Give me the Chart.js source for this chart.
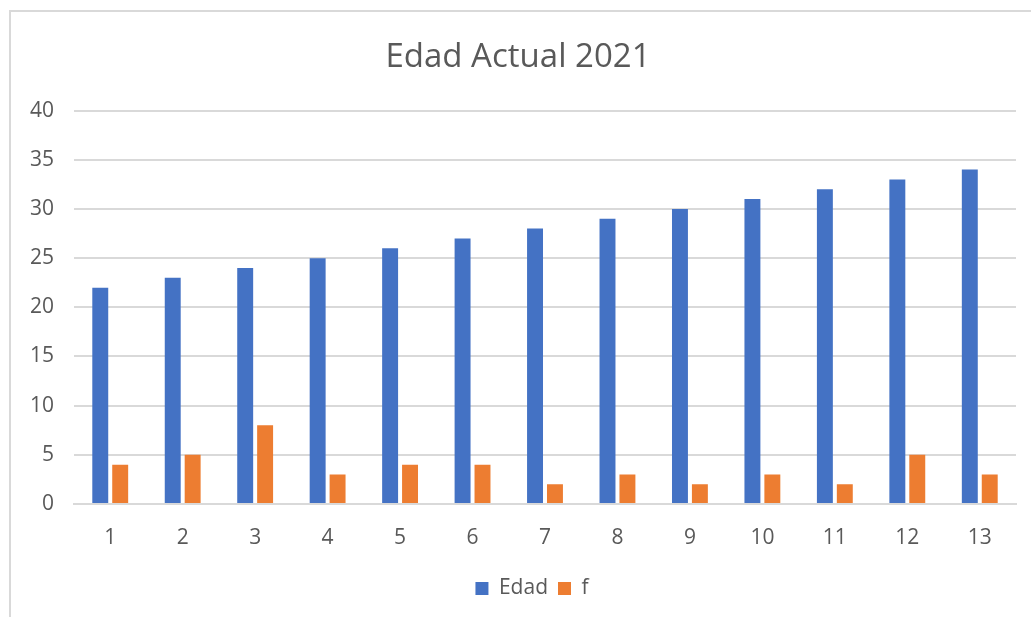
<!DOCTYPE html>
<html>
<head>
<meta charset="utf-8">
<script src="https://cdn.jsdelivr.net/npm/chart.js@4"></script>
<style>
  body { margin: 0; background: #fff; }
  #frame { position: absolute; left: 9px; top: 10px; width: 1040px; height: 620px; border: 2px solid #d9d9d9; }
  #wrap { position: absolute; left: 0; top: 0; width: 1031px; height: 617px; }
</style>
</head>
<body>
<div id="frame"></div>
<div id="wrap"><canvas id="mycanvas"></canvas></div>
<script>
var categorias = ['1', '2', '3', '4', '5', '6', '7', '8', '9', '10', '11', '12', '13'];
var edad = [22, 23, 24, 25, 26, 27, 28, 29, 30, 31, 32, 33, 34];
var frec = [4, 5, 8, 3, 4, 4, 2, 3, 2, 3, 2, 5, 3];

var gris = '#595959';

var chartdata = {
  labels: categorias,
  datasets: [
    {
      label: 'Edad',
      backgroundColor: '#4472C4',
      data: edad,
      categoryPercentage: 0.55,
      barPercentage: 0.8
    },
    {
      label: 'f',
      backgroundColor: '#ED7D31',
      data: frec,
      categoryPercentage: 0.55,
      barPercentage: 0.8
    }
  ]
};

// the original legend sits a bit right of the page centre
var moverLeyenda = {
  id: 'moverLeyenda',
  afterLayout: function(chart) {
    chart.legend.left += 14;
    chart.legend.right += 14;
  }
};

var ctx = document.getElementById('mycanvas');

var barGraph = new Chart(ctx, {
  type: 'bar',
  data: chartdata,
  plugins: [moverLeyenda],
  options: {
    responsive: true,
    maintainAspectRatio: false,
    animation: false,
    layout: { padding: { left: 20, right: 15, top: 0, bottom: 8 } },
    plugins: {
      title: {
        display: true,
        text: 'Edad Actual 2021',
        color: gris,
        font: { family: 'Open Sans', size: 33, weight: 'normal' },
        padding: { top: 38, bottom: 33 }
      },
      legend: {
        position: 'bottom',
        labels: {
          color: gris,
          font: { family: 'Open Sans', size: 21 },
          boxWidth: 13,
          boxHeight: 13,
          padding: 10
        }
      },
      tooltip: { enabled: false }
    },
    scales: {
      x: {
        grid: { display: false, drawTicks: false },
        border: { color: '#d9d9d9', width: 2 },
        ticks: { color: gris, font: { family: 'Open Sans', size: 21 }, padding: 21 },
        afterFit: function(scale) { scale.height = 64; }
      },
      y: {
        min: 0,
        max: 40,
        ticks: { stepSize: 5, color: gris, font: { family: 'Open Sans', size: 21 }, padding: 20 },
        grid: { color: '#d9d9d9', lineWidth: 2, drawTicks: false },
        border: { display: false },
        afterFit: function(scale) { scale.width = 54; }
      }
    }
  }
});
</script>
</body>
</html>
